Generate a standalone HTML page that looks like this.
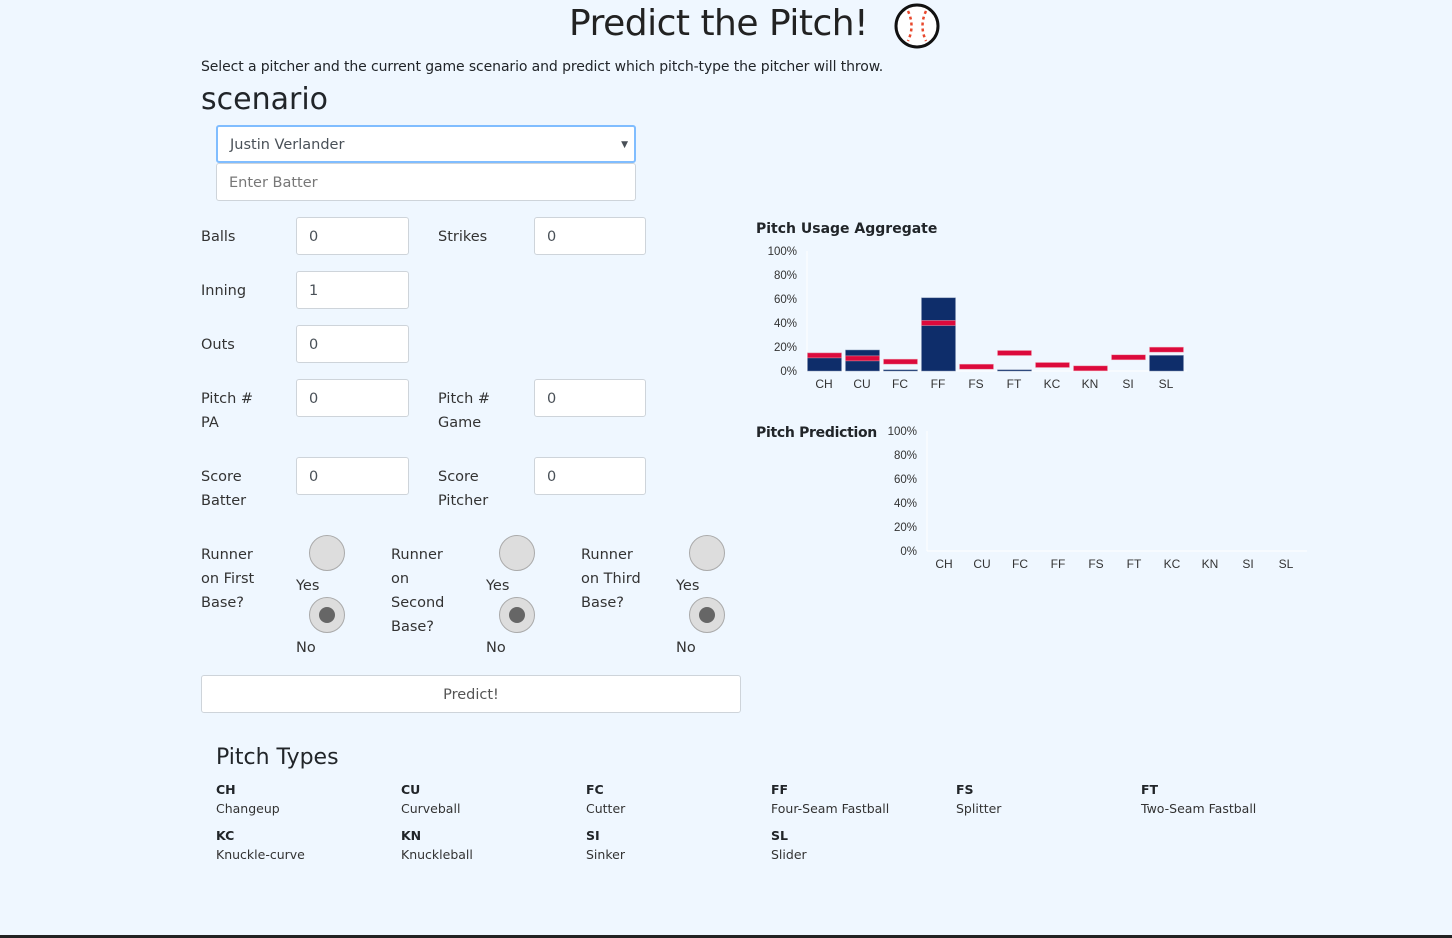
<!DOCTYPE html>
<html><head><meta charset="utf-8">
<style>
html,body{margin:0;padding:0;}
body{width:1452px;height:938px;background:#eff7ff;font-family:"DejaVu Sans","Liberation Sans",sans-serif;color:#212529;position:relative;overflow:hidden;font-size:15px;}
.a{position:absolute;white-space:nowrap;}
.inp{position:absolute;background:#fff;border:1px solid #ced4da;border-radius:3px;box-sizing:border-box;height:38px;padding:0 12px;line-height:38px;color:#495057;font-size:14.5px;}
.lbl{position:absolute;line-height:24px;font-size:14.5px;color:#333;}
.radio{position:absolute;width:36px;height:36px;border-radius:50%;background:#ddd;border:1px solid #aaa;box-sizing:border-box;}
.radio.on::after{content:"";position:absolute;left:9px;top:9px;width:16px;height:16px;border-radius:50%;background:#666;}
.pt{position:absolute;font-size:12.5px;line-height:19px;color:#333;}
.pt b{color:#212529;}
svg text{font-family:"Liberation Sans",sans-serif;}
</style></head><body>
<div class="a" style="left:569px;top:3px;font-size:36px;color:#222;letter-spacing:-0.5px;">Predict the Pitch!</div>
<svg style="position:absolute;left:893px;top:2px" width="48" height="48" viewBox="0 0 48 48">
<circle cx="24" cy="24" r="21" fill="#fff" stroke="#111" stroke-width="3"/>
<path d="M15 9 Q22 24 15 39 M33 9 Q26 24 33 39" fill="none" stroke="#e8482d" stroke-width="2.5" stroke-dasharray="3 3"/>
</svg>
<div class="a" style="left:201px;top:59px;font-size:14px;letter-spacing:-0.1px;">Select a pitcher and the current game scenario and predict which pitch-type the pitcher will throw.</div>
<div class="a" style="left:201px;top:82px;font-size:30px;">scenario</div>
<div class="inp" style="left:216px;top:125px;width:420px;border:2px solid #80bdff;line-height:36px;">Justin Verlander<span style="position:absolute;right:6px;font-size:9px;">▼</span></div>
<div class="inp" style="left:216px;top:163px;width:420px;color:#777;">Enter Batter</div>

<div class="lbl" style="left:201px;top:225px;">Balls</div>
<div class="inp" style="left:296px;top:217px;width:113px;">0</div>
<div class="lbl" style="left:438px;top:225px;">Strikes</div>
<div class="inp" style="left:534px;top:217px;width:112px;">0</div>
<div class="lbl" style="left:201px;top:279px;">Inning</div>
<div class="inp" style="left:296px;top:271px;width:113px;">1</div>
<div class="lbl" style="left:201px;top:333px;">Outs</div>
<div class="inp" style="left:296px;top:325px;width:113px;">0</div>
<div class="lbl" style="left:201px;top:387px;">Pitch #<br>PA</div>
<div class="inp" style="left:296px;top:379px;width:113px;">0</div>
<div class="lbl" style="left:438px;top:387px;">Pitch #<br>Game</div>
<div class="inp" style="left:534px;top:379px;width:112px;">0</div>
<div class="lbl" style="left:201px;top:465px;">Score<br>Batter</div>
<div class="inp" style="left:296px;top:457px;width:113px;">0</div>
<div class="lbl" style="left:438px;top:465px;">Score<br>Pitcher</div>
<div class="inp" style="left:534px;top:457px;width:112px;">0</div>

<div class="lbl" style="left:201px;top:543px;">Runner<br>on First<br>Base?</div>
<div class="radio" style="left:309px;top:535px;"></div>
<div class="lbl" style="left:296px;top:574px;">Yes</div>
<div class="radio on" style="left:309px;top:597px;"></div>
<div class="lbl" style="left:296px;top:636px;">No</div>

<div class="lbl" style="left:391px;top:543px;">Runner<br>on<br>Second<br>Base?</div>
<div class="radio" style="left:499px;top:535px;"></div>
<div class="lbl" style="left:486px;top:574px;">Yes</div>
<div class="radio on" style="left:499px;top:597px;"></div>
<div class="lbl" style="left:486px;top:636px;">No</div>

<div class="lbl" style="left:581px;top:543px;">Runner<br>on Third<br>Base?</div>
<div class="radio" style="left:689px;top:535px;"></div>
<div class="lbl" style="left:676px;top:574px;">Yes</div>
<div class="radio on" style="left:689px;top:597px;"></div>
<div class="lbl" style="left:676px;top:636px;">No</div>

<div class="inp" style="left:201px;top:675px;width:540px;text-align:center;color:#555;">Predict!</div>

<div class="a" style="left:756px;top:221px;font-size:14px;font-weight:bold;">Pitch Usage Aggregate</div>
<div class="a" style="left:756px;top:425px;font-size:14px;font-weight:bold;letter-spacing:-0.3px;">Pitch Prediction</div>
<svg id="charts" style="position:absolute;left:0;top:0" width="1452" height="938"></svg>

<div class="a" style="left:216px;top:745px;font-size:22px;">Pitch Types</div>
<div id="types"></div>
<div class="a" style="left:0;top:935px;width:1452px;height:3px;background:#222;"></div>

<script>
const categories=["CH","CU","FC","FF","FS","FT","KC","KN","SI","SL"];
const usageValues=[15,17.5,1,61,0,1,0,0,0,13];
const leagueValues=[13,10.5,7.8,40,3.6,15,5,2.2,11.4,17.8];
const predictionValues=[0,0,0,0,0,0,0,0,0,0];
const yTicks=[0,20,40,60,80,100];
const tickLabels=["0%","20%","40%","60%","80%","100%"];
const names=["Changeup","Curveball","Cutter","Four-Seam Fastball","Splitter","Two-Seam Fastball","Knuckle-curve","Knuckleball","Sinker","Slider"];

const NS="http://www.w3.org/2000/svg";
const svg=document.getElementById('charts');
function mk(tag,attrs,parent){const e=document.createElementNS(NS,tag);for(const k in attrs)e.setAttribute(k,attrs[k]);(parent||svg).appendChild(e);return e;}
function chart(x0,y0,w,h,vals,avg,prefix){
  const band=w/categories.length;
  const xs=i=>x0+i*band;
  const ys=v=>y0-v/100*h;
  const g=mk('g',{});
  
  
  yTicks.forEach((t,i)=>{
    const tx=mk('text',{x:x0-10,y:ys(t)+4,'text-anchor':'end','font-size':11.5,fill:'#333'},g);
    tx.textContent=tickLabels[i];
    
    
  });
  const ax=mk('line',{x1:x0,y1:ys(100),x2:x0,y2:y0,stroke:'#fff','stroke-width':1},g);
  
  
  const bx=mk('line',{x1:x0,y1:y0,x2:x0+w,y2:y0,stroke:'#fff','stroke-width':1},g);
  
  
  categories.forEach((c,i)=>{
    const tx=mk('text',{x:xs(i)+band/2-2,y:y0+17,'text-anchor':'middle','font-size':12,fill:'#333'},g);
    tx.textContent=c;
    
    
    if(vals[i]>0){
      const r=mk('rect',{x:xs(i)+0.5,y:ys(vals[i]),width:band-4,height:y0-ys(vals[i]),fill:'#0e2d6a',stroke:'#7f8fb0','stroke-width':0.5},g);
      
      
    }
    if(avg){
      const m=mk('rect',{x:xs(i)+0.5,y:ys(avg[i])-2.5,width:band-4,height:5,fill:'#dc0a3c',stroke:'#f0a0b0','stroke-width':0.5},g);
      
      
    }
  });
}
chart(807,371,380,120,usageValues,leagueValues,'usage');
chart(927,551,380,120,predictionValues,null,'prediction');

const types=document.getElementById('types');
const cols=[216,401,586,771,956,1141];
categories.forEach((c,i)=>{
  const d=document.createElement('div');
  d.className='pt';
  d.style.left=cols[i%6]+'px';
  d.style.top=(780+Math.floor(i/6)*46)+'px';
  d.innerHTML='<b>'+c+'</b><br>'+names[i];
  
  
  types.appendChild(d);
});
</script>
</body></html>
